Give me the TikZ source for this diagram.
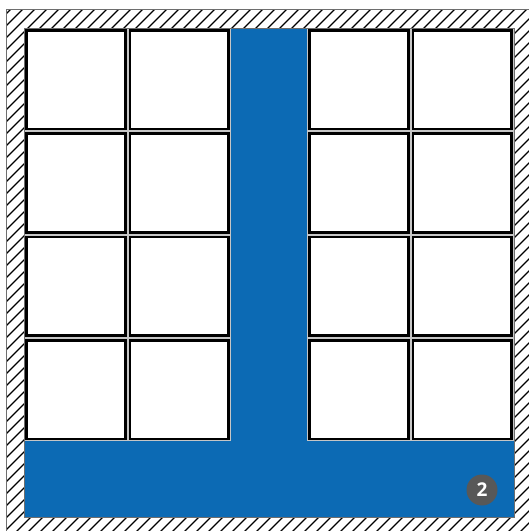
\documentclass[tikz,border=0pt]{standalone}
\usepackage{fontspec}
\setmainfont{Open Sans}
\definecolor{floorblue}{RGB}{12,106,180}
\definecolor{badgegray}{RGB}{88,88,88}
\definecolor{edgegray}{RGB}{110,110,110}
\tikzset{
  hatchline/.style={black, line width=1.1pt},
  cellbox/.style={fill=white, draw=black, line width=2.6pt},
  wall/.style={draw=edgegray, line width=1pt},
  badge/.style={circle, fill=badgegray, text=white, minimum size=31pt, inner sep=0pt, font=\bfseries\fontsize{19}{19}\selectfont}
}
\begin{document}
\begin{tikzpicture}[x=1pt,y=-1pt]
\useasboundingbox (0,0) rectangle (529,531);
\fill[white] (0,0) rectangle (529,531);
% hatched wall
\begin{scope}[even odd rule]
  \clip (6,9) rectangle (535,537) (24,28) rectangle (514,517);
  \foreach \a in {-576,-564,...,560} {
    \draw[hatchline] (\a,560) -- (\a+570,-10);
  }
\end{scope}
\draw[wall] (6,9) -- (535,9);
\draw[wall] (6,9) -- (6,537);
% floor
\fill[floorblue] (24,441.2) -- (231,441.2) -- (231,28) -- (307,28) -- (307,441.2) -- (514,441.2) -- (514,517) -- (24,517) -- cycle;
% cells
\foreach \xa/\xb in {24/127.5, 127.5/231, 307/410.5, 410.5/514} {
  \foreach \ya/\yb in {28/131.3, 131.3/234.6, 234.6/337.9, 337.9/441.2} {
    \fill[gray!45] (\xa,\ya) rectangle (\xb,\yb);
    \draw[cellbox] (\xa+2.3,\ya+2.3) rectangle (\xb-2.3,\yb-2.3);
  }
}
\draw[wall] (24,28) rectangle (514,517);
\node[badge] (b2) at (482,490) {2};
\end{tikzpicture}
\end{document}
